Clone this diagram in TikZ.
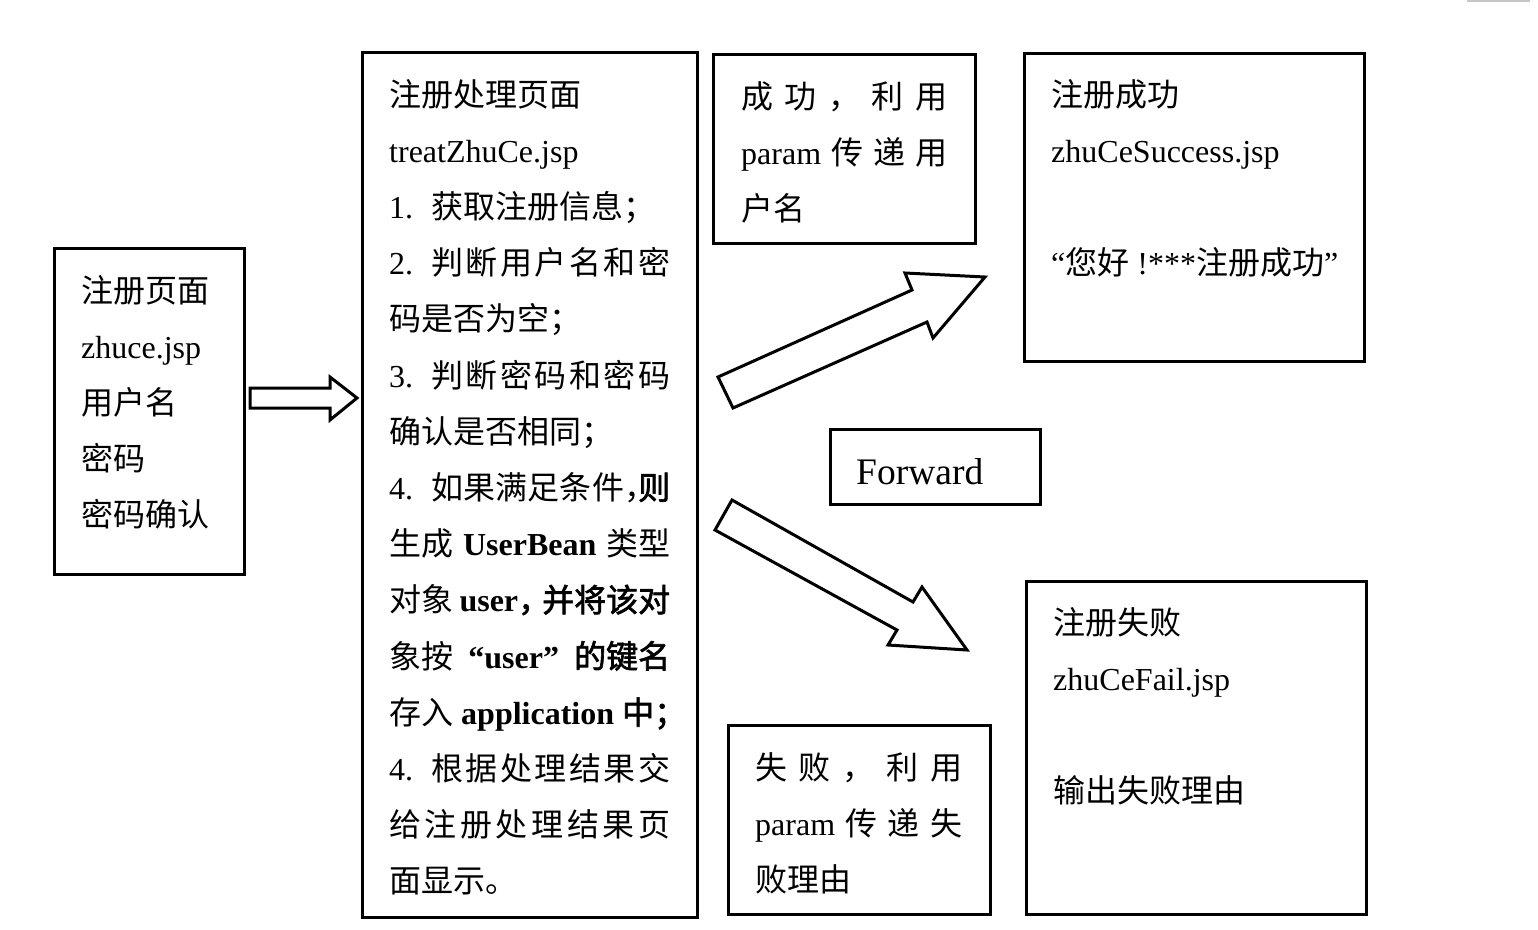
\documentclass[tikz,border=0pt]{standalone}
\usepackage{fontspec}
\setmainfont{Noto Sans CJK SC}
\newfontfamily\lat{Liberation Serif}
\newfontfamily\cjkb{Noto Sans CJK SC}[FakeBold=2]
\newcommand\la[1]{{\lat #1}}
\newcommand\lb[1]{{\lat\bfseries #1}}
\newcommand\hb[1]{{\cjkb #1}}
\newcommand\J[2]{\makebox[#1][s]{#2}}
\newcommand\hc{\makebox[14pt][l]{，}}
\tikzset{
  box/.style={draw, line width=3pt, inner sep=0pt},
  txt/.style={anchor=base west, inner sep=0pt, font=\fontsize{32}{56.2}\selectfont},
  blockarrow/.style={draw, line width=3pt, fill=white, line join=miter}
}
\begin{document}
\begin{tikzpicture}[x=1pt, y=-1pt]
\useasboundingbox (0,0) rectangle (1538,929);
% boxes
\node[box, minimum width=190pt, minimum height=326pt] (reg) at (149.5,411.5) {};
\node[box, minimum width=335pt, minimum height=865pt] (treat) at (530,485) {};
\node[box, minimum width=262pt, minimum height=189pt] (oknote) at (844.5,149) {};
\node[box, minimum width=340pt, minimum height=308pt] (succ) at (1194.5,207.5) {};
\node[box, minimum width=210pt, minimum height=75pt] (fwd) at (935.5,467) {};
\node[box, minimum width=340pt, minimum height=333pt] (fail) at (1196.5,748) {};
\node[box, minimum width=262pt, minimum height=189pt] (failnote) at (859.5,820) {};
% texts
\node[txt] (regT) at (81,302) {\parbox[t]{160pt}{注册页面\\ \la{zhuce.jsp}\\ 用户名\\ 密码\\ 密码确认}};
\node[txt] (treatT) at (389,106) {\parbox[t]{300pt}{%
注册处理页面\\
\la{treatZhuCe.jsp}\\
\la{1.}\hspace{18pt}获取注册信息；\\
\J{281pt}{\la{2.}\hspace{18pt}判\hfill 断\hfill 用\hfill 户\hfill 名\hfill 和\hfill 密}\\
码是否为空；\\
\J{281pt}{\la{3.}\hspace{18pt}判\hfill 断\hfill 密\hfill 码\hfill 和\hfill 密\hfill 码}\\
确认是否相同；\\
\J{281pt}{\la{4.}\hspace{18pt}如\hfill 果\hfill 满\hfill 足\hfill 条\hfill 件\hfill \hc\hb{则}}\\
\J{281pt}{生成\hfill \lb{UserBean}\hfill 类型}\\
\J{281pt}{对象\hfill \lb{user}\makebox[24pt][l]{\hb{，}}\hb{并将该对}}\\
\J{281pt}{象按\hfill \lb{“user”}\hfill \hb{的键名}}\\
\J{281pt}{存入\hfill \lb{application}\hfill \hb{中}\makebox[16pt][l]{\hb{；}}}\\
\J{281pt}{\la{4.}\hspace{18pt}根\hfill 据\hfill 处\hfill 理\hfill 结\hfill 果\hfill 交}\\
\J{281pt}{给\hfill 注\hfill 册\hfill 处\hfill 理\hfill 结\hfill 果\hfill 页}\\
面显示。}};
\node[txt] (okT) at (741,108) {\parbox[t]{220pt}{%
\J{206pt}{成\hfill 功\hfill ，\hfill 利\hfill 用}\\
\J{206pt}{\la{param}\hfill 传\hfill 递\hfill 用}\\
户名}};
\node[txt] (succT) at (1051,106) {\parbox[t]{310pt}{%
注册成功\\
\la{zhuCeSuccess.jsp}\\
\mbox{}\\
\la{“}您好\la{ !***}注册成功\la{”}}};
\node[anchor=base west, inner sep=0pt, font=\fontsize{37.5}{40}\selectfont\lat] (fwdT) at (856,484) {Forward};
\node[txt] (failT) at (1053,634) {\parbox[t]{310pt}{%
注册失败\\
\la{zhuCeFail.jsp}\\
\mbox{}\\
输出失败理由}};
\node[txt] (failnoteT) at (755,779) {\parbox[t]{220pt}{%
\J{207pt}{失\hfill 败\hfill ，\hfill 利\hfill 用}\\
\J{207pt}{\la{param}\hfill 传\hfill 递\hfill 失}\\
败理由}};
% block arrows
\draw[blockarrow] (250,388) -- (330,388) -- (330,377) -- (357,398) -- (330,420) -- (330,408) -- (250,408) -- cycle;
\draw[blockarrow] (718,377) -- (912,290) -- (905,273) -- (985,277) -- (933,338) -- (927,322) -- (733,408) -- cycle;
\draw[blockarrow] (732,500) -- (913,602) -- (922,587) -- (967,650) -- (888,645) -- (897,630) -- (715,530) -- cycle;
% faint line at top right
\draw[gray!45, line width=1.5pt] (1467,1) -- (1530,1);
\end{tikzpicture}
\end{document}
